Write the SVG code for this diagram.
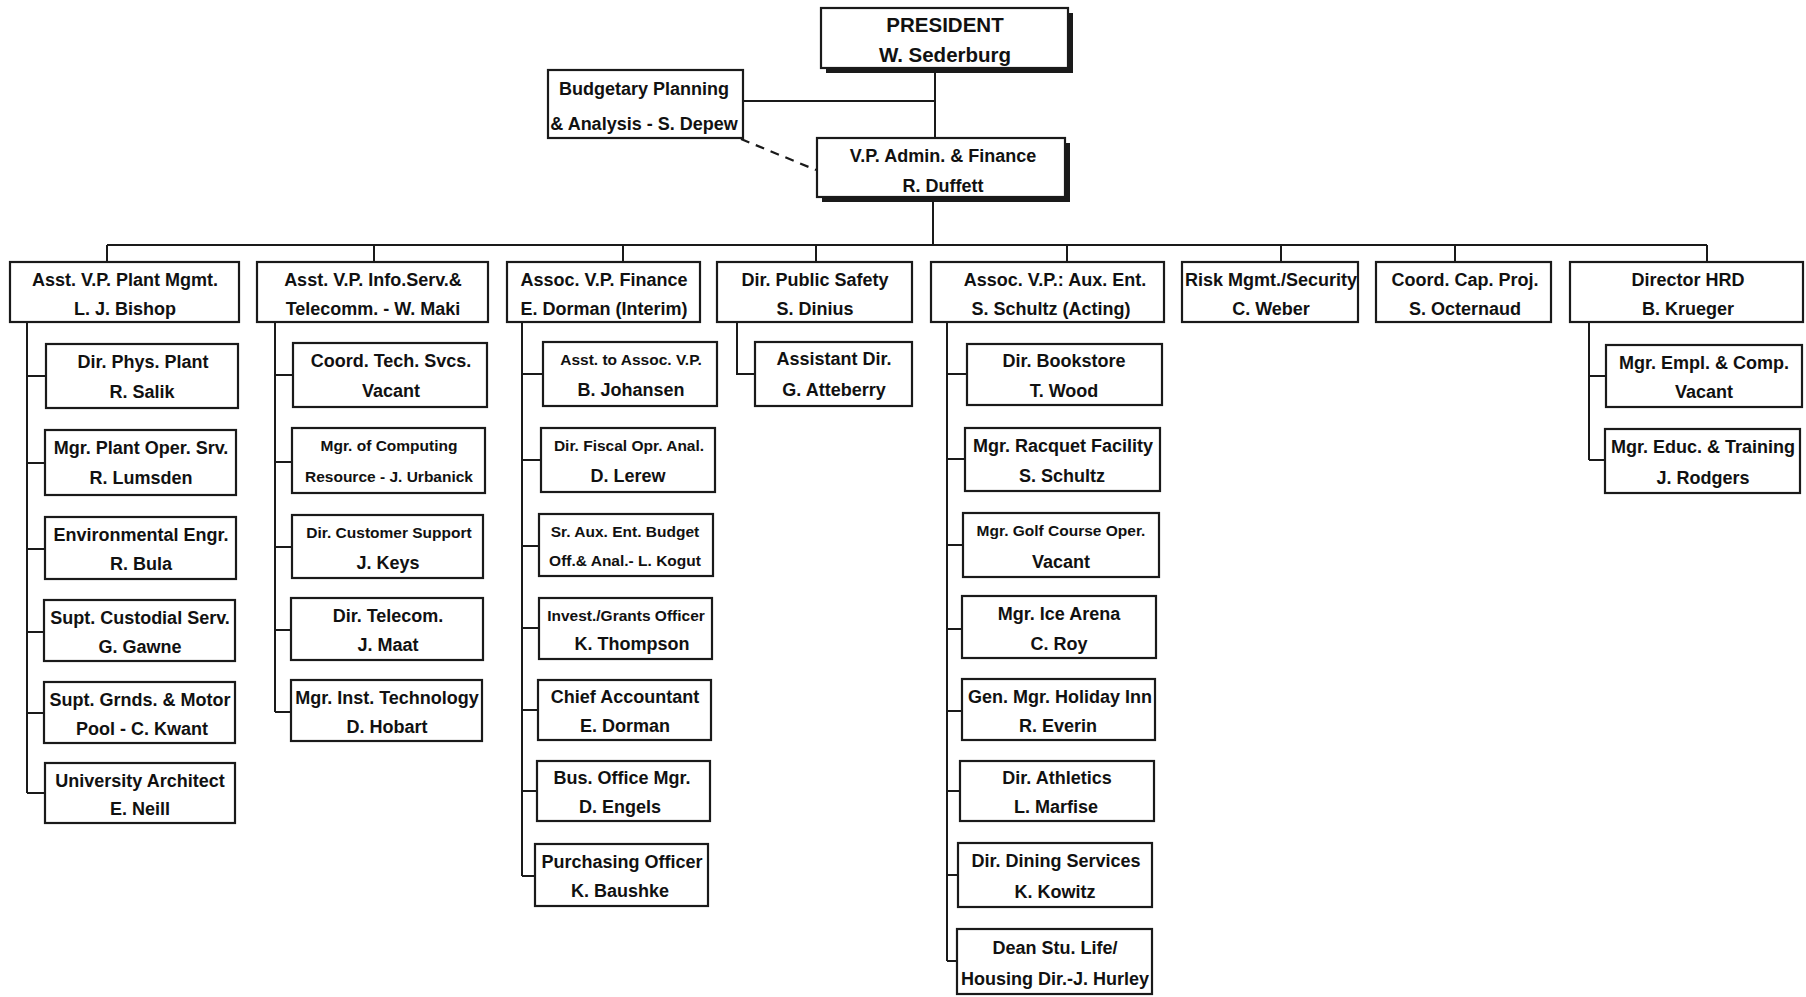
<svg xmlns="http://www.w3.org/2000/svg" width="1806" height="997" viewBox="0 0 1806 997">
<style>
.b{fill:#fff;stroke:#1a1a1a;stroke-width:2.2}
.sh{fill:#1a1a1a}
.c{fill:none;stroke:#1a1a1a;stroke-width:2}
.d{fill:none;stroke:#1a1a1a;stroke-width:2.2;stroke-dasharray:9 7}
text{font-family:"Liberation Sans",Arial,sans-serif;font-weight:bold;font-size:18px;text-anchor:middle;fill:#111}
.s{font-size:15.5px}
.p{font-size:20.5px}
</style>
<rect width="1806" height="997" fill="#fff"/>
<g id="connectors">
<path class="c" d="M935 73V138M743 101H935M933 202V245M107 245H1707M107 245V262M374 245V262M623 245V262M816 245V262M1067 245V262M1281 245V262M1455 245V262M1707 245V262"/>
<path class="d" d="M741 139L816 170"/>
<path class="c" d="M27 322V793M27 376H46M27 463H45M27 549H45M27 632H45M27 713H45M27 793H45"/>
<path class="c" d="M275 322V712M275 375H293M275 462H292M275 547H292M275 630H291M275 712H291"/>
<path class="c" d="M522 322V876M522 374H543M522 460H541M522 546H539M522 628H539M522 710H538M522 791H537M522 876H535"/>
<path class="c" d="M737 322V374H755"/>
<path class="c" d="M947 322V961M947 374H967M947 459H965M947 545H963M947 629H962M947 711H962M947 791H960M947 875H958M947 961H957"/>
<path class="c" d="M1589 322V460M1589 376H1606M1589 460H1605"/>
</g>
<g id="president"><rect class="sh" x="826" y="13" width="247" height="60"/><rect class="b" x="821" y="8" width="247" height="60"/><text class="p" x="945" y="32">PRESIDENT</text><text class="p" x="945" y="62">W. Sederburg</text></g>
<g id="budget"><rect class="b" x="548" y="70" width="195" height="68"/><text x="644" y="95">Budgetary Planning</text><text x="644" y="130">&amp; Analysis - S. Depew</text></g>
<g id="vp"><rect class="sh" x="822" y="143" width="248" height="59"/><rect class="b" x="817" y="138" width="248" height="59"/><text x="943" y="162">V.P. Admin. &amp; Finance</text><text x="943" y="192">R. Duffett</text></g>
<g id="plant"><rect class="b" x="10" y="262" width="229" height="60"/><text x="125" y="286">Asst. V.P. Plant Mgmt.</text><text x="125" y="315">L. J. Bishop</text></g>
<g id="info"><rect class="b" x="257" y="262" width="231" height="60"/><text x="373" y="286">Asst. V.P. Info.Serv.&amp;</text><text x="373" y="315">Telecomm. - W. Maki</text></g>
<g id="finance"><rect class="b" x="507" y="262" width="193" height="60"/><text x="604" y="286">Assoc. V.P. Finance</text><text x="604" y="315">E. Dorman (Interim)</text></g>
<g id="safety"><rect class="b" x="717" y="262" width="195" height="60"/><text x="815" y="286">Dir. Public Safety</text><text x="815" y="315">S. Dinius</text></g>
<g id="aux"><rect class="b" x="931" y="262" width="233" height="60"/><text x="1055" y="286">Assoc. V.P.: Aux. Ent.</text><text x="1051" y="315">S. Schultz (Acting)</text></g>
<g id="risk"><rect class="b" x="1182" y="262" width="176" height="60"/><text x="1271" y="286">Risk Mgmt./Security</text><text x="1271" y="315">C. Weber</text></g>
<g id="capproj"><rect class="b" x="1376" y="262" width="175" height="60"/><text x="1465" y="286">Coord. Cap. Proj.</text><text x="1465" y="315">S. Octernaud</text></g>
<g id="hrd"><rect class="b" x="1570" y="262" width="233" height="60"/><text x="1688" y="286">Director HRD</text><text x="1688" y="315">B. Krueger</text></g>
<g id="physplant"><rect class="b" x="46" y="344" width="192" height="64"/><text x="143" y="368">Dir. Phys. Plant</text><text x="142" y="398">R. Salik</text></g>
<g id="plantoper"><rect class="b" x="45" y="430" width="191" height="65"/><text x="141" y="454">Mgr. Plant Oper. Srv.</text><text x="141" y="484">R. Lumsden</text></g>
<g id="enveng"><rect class="b" x="45" y="517" width="191" height="62"/><text x="141" y="541">Environmental Engr.</text><text x="141" y="570">R. Bula</text></g>
<g id="custodial"><rect class="b" x="44" y="600" width="191" height="61"/><text x="140" y="624">Supt. Custodial Serv.</text><text x="140" y="653">G. Gawne</text></g>
<g id="grounds"><rect class="b" x="44" y="682" width="191" height="61"/><text x="140" y="706">Supt. Grnds. &amp; Motor</text><text x="142" y="735">Pool - C. Kwant</text></g>
<g id="architect"><rect class="b" x="45" y="763" width="190" height="60"/><text x="140" y="787">University Architect</text><text x="140" y="815">E. Neill</text></g>
<g id="techsvcs"><rect class="b" x="293" y="343" width="194" height="64"/><text x="391" y="367">Coord. Tech. Svcs.</text><text x="391" y="397">Vacant</text></g>
<g id="computing"><rect class="b" x="292" y="428" width="193" height="65"/><text class="s" x="389" y="451">Mgr. of Computing</text><text class="s" x="389" y="482">Resource - J. Urbanick</text></g>
<g id="custsupport"><rect class="b" x="292" y="515" width="191" height="63"/><text class="s" x="389" y="538">Dir. Customer Support</text><text x="388" y="569">J. Keys</text></g>
<g id="telecom"><rect class="b" x="291" y="598" width="192" height="62"/><text x="388" y="622">Dir. Telecom.</text><text x="388" y="651">J. Maat</text></g>
<g id="insttech"><rect class="b" x="291" y="680" width="191" height="61"/><text x="387" y="704">Mgr. Inst. Technology</text><text x="387" y="733">D. Hobart</text></g>
<g id="asstassoc"><rect class="b" x="543" y="342" width="174" height="64"/><text class="s" x="631" y="365">Asst. to Assoc. V.P.</text><text x="631" y="396">B. Johansen</text></g>
<g id="fiscal"><rect class="b" x="541" y="428" width="174" height="64"/><text class="s" x="629" y="451">Dir. Fiscal Opr. Anal.</text><text x="628" y="482">D. Lerew</text></g>
<g id="auxbudget"><rect class="b" x="539" y="514" width="174" height="62"/><text class="s" x="625" y="537">Sr. Aux. Ent. Budget</text><text class="s" x="625" y="566">Off.&amp; Anal.- L. Kogut</text></g>
<g id="grants"><rect class="b" x="539" y="598" width="173" height="61"/><text class="s" x="626" y="621">Invest./Grants Officer</text><text x="632" y="650">K. Thompson</text></g>
<g id="accountant"><rect class="b" x="538" y="680" width="173" height="60"/><text x="625" y="703">Chief Accountant</text><text x="625" y="732">E. Dorman</text></g>
<g id="busoffice"><rect class="b" x="537" y="761" width="173" height="60"/><text x="622" y="784">Bus. Office Mgr.</text><text x="620" y="813">D. Engels</text></g>
<g id="purchasing"><rect class="b" x="535" y="844" width="173" height="62"/><text x="622" y="868">Purchasing Officer</text><text x="620" y="897">K. Baushke</text></g>
<g id="asstdir"><rect class="b" x="755" y="342" width="157" height="64"/><text x="834" y="365">Assistant Dir.</text><text x="834" y="396">G. Atteberry</text></g>
<g id="bookstore"><rect class="b" x="967" y="344" width="195" height="61"/><text x="1064" y="367">Dir. Bookstore</text><text x="1064" y="397">T. Wood</text></g>
<g id="racquet"><rect class="b" x="965" y="428" width="195" height="63"/><text x="1063" y="452">Mgr. Racquet Facility</text><text x="1062" y="482">S. Schultz</text></g>
<g id="golf"><rect class="b" x="963" y="513" width="196" height="64"/><text class="s" x="1061" y="536">Mgr. Golf Course Oper.</text><text x="1061" y="568">Vacant</text></g>
<g id="icearena"><rect class="b" x="962" y="596" width="194" height="62"/><text x="1059" y="620">Mgr. Ice Arena</text><text x="1059" y="650">C. Roy</text></g>
<g id="holidayinn"><rect class="b" x="962" y="679" width="193" height="61"/><text x="1060" y="703">Gen. Mgr. Holiday Inn</text><text x="1058" y="732">R. Everin</text></g>
<g id="athletics"><rect class="b" x="960" y="761" width="194" height="60"/><text x="1057" y="784">Dir. Athletics</text><text x="1056" y="813">L. Marfise</text></g>
<g id="dining"><rect class="b" x="958" y="843" width="194" height="64"/><text x="1056" y="867">Dir. Dining Services</text><text x="1055" y="898">K. Kowitz</text></g>
<g id="studentlife"><rect class="b" x="957" y="929" width="195" height="65"/><text x="1055" y="954">Dean Stu. Life/</text><text x="1055" y="985">Housing Dir.-J. Hurley</text></g>
<g id="emplcomp"><rect class="b" x="1606" y="345" width="196" height="62"/><text x="1704" y="369">Mgr. Empl. &amp; Comp.</text><text x="1704" y="398">Vacant</text></g>
<g id="training"><rect class="b" x="1605" y="429" width="195" height="64"/><text x="1703" y="453">Mgr. Educ. &amp; Training</text><text x="1703" y="484">J. Rodgers</text></g>
</svg>
